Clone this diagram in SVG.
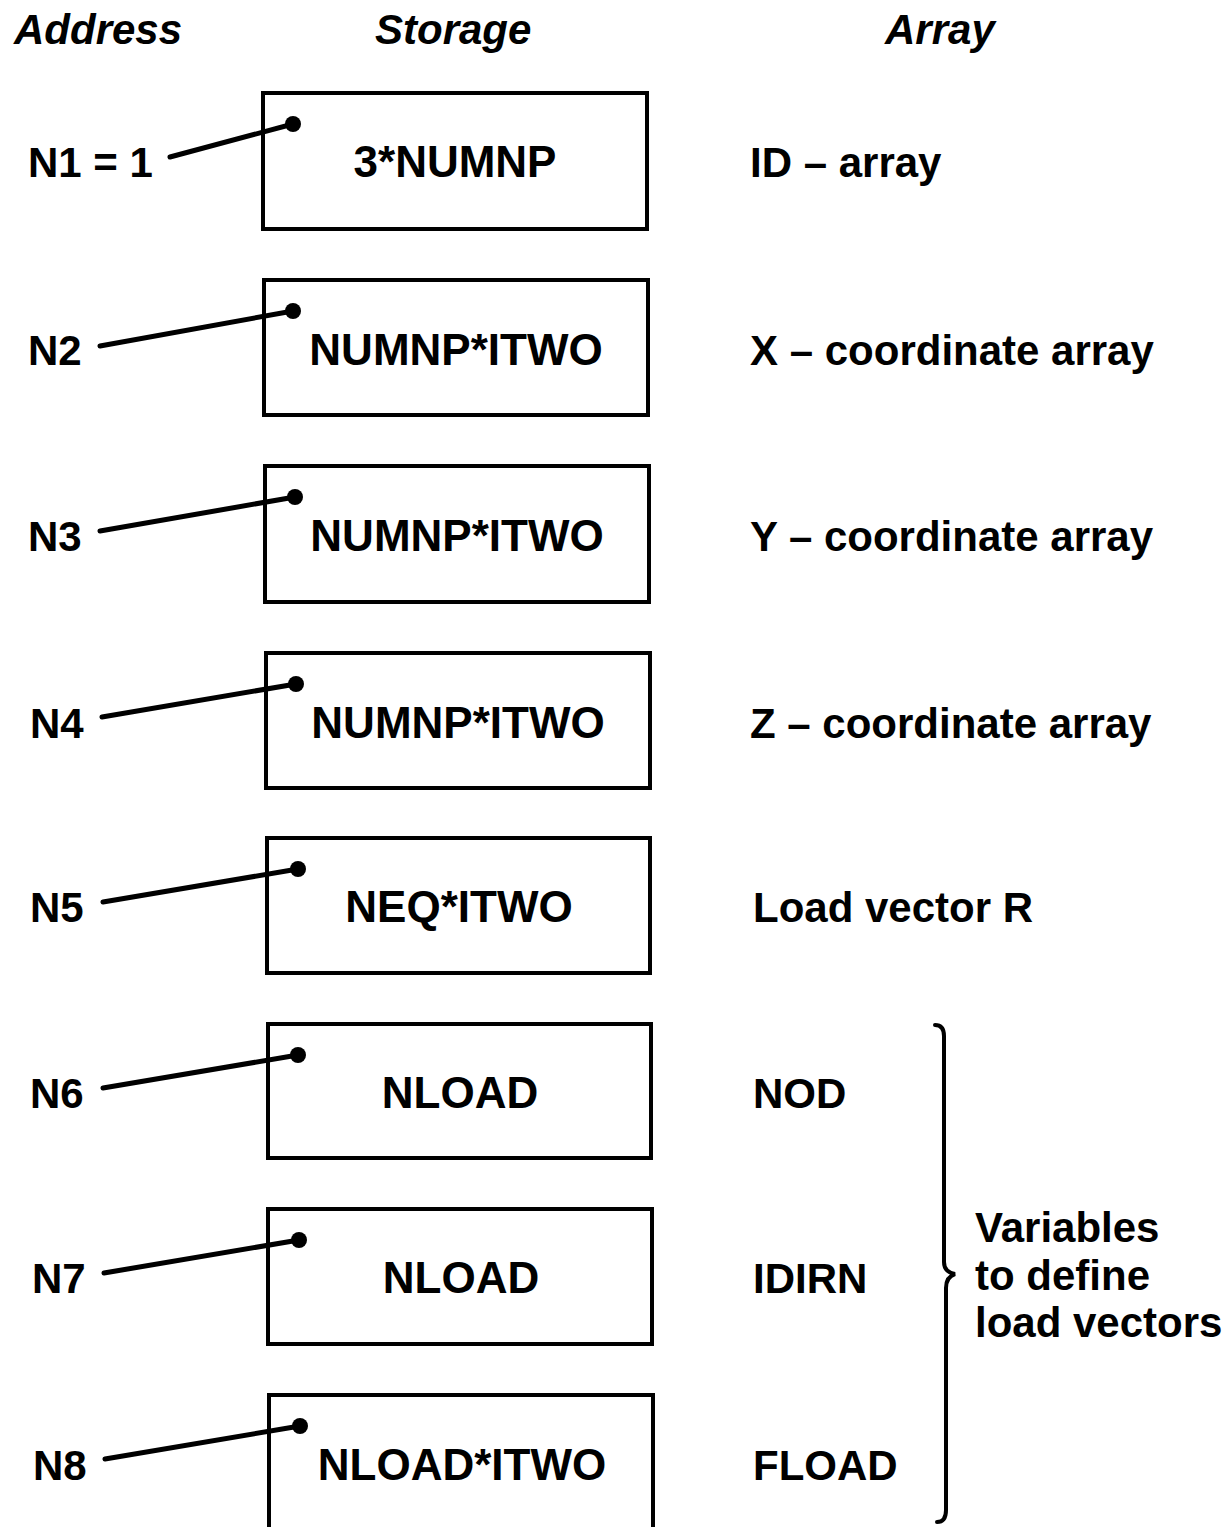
<svg xmlns="http://www.w3.org/2000/svg" width="1225" height="1527" viewBox="0 0 1225 1527">
<style>
text{font-family:"Liberation Sans",Arial,sans-serif;font-weight:bold;fill:#000;font-size:42px}
.h{font-style:italic}
.c{font-size:44px;text-anchor:middle}
.box{fill:#fff;stroke:#000;stroke-width:4}
.ln{stroke:#000;stroke-width:5;fill:none;stroke-linecap:round}
.br{stroke:#000;stroke-width:4;fill:none;stroke-linecap:round}
</style>
<rect width="1225" height="1527" fill="#fff"/>
<g id="headers">
<text class="h" x="14" y="44">Address</text>
<text class="h" x="375" y="44">Storage</text>
<text class="h" x="885" y="44">Array</text>
</g>
<g id="node1"><rect class="box" x="263" y="93" width="384" height="136"/><text class="c" x="455" y="177">3*NUMNP</text></g>
<g id="node2"><rect class="box" x="264" y="280" width="384" height="135"/><text class="c" x="456" y="365">NUMNP*ITWO</text></g>
<g id="node3"><rect class="box" x="265" y="466" width="384" height="136"/><text class="c" x="457" y="551">NUMNP*ITWO</text></g>
<g id="node4"><rect class="box" x="266" y="653" width="384" height="135"/><text class="c" x="458" y="738">NUMNP*ITWO</text></g>
<g id="node5"><rect class="box" x="267" y="838" width="383" height="135"/><text class="c" x="459" y="922">NEQ*ITWO</text></g>
<g id="node6"><rect class="box" x="268" y="1024" width="383" height="134"/><text class="c" x="460" y="1108">NLOAD</text></g>
<g id="node7"><rect class="box" x="268" y="1209" width="384" height="135"/><text class="c" x="461" y="1293">NLOAD</text></g>
<g id="node8"><rect class="box" x="269" y="1395" width="384" height="134"/><text class="c" x="462" y="1480">NLOAD*ITWO</text></g>
<g id="addresses">
<text x="28" y="177">N1 = 1</text>
<text x="28" y="365">N2</text>
<text x="28" y="551">N3</text>
<text x="30" y="738">N4</text>
<text x="30" y="922">N5</text>
<text x="30" y="1108">N6</text>
<text x="32" y="1293">N7</text>
<text x="33" y="1480">N8</text>
</g>
<g id="arrays">
<text x="750" y="177">ID – array</text>
<text x="750" y="365">X – coordinate array</text>
<text x="750" y="551">Y – coordinate array</text>
<text x="750" y="738">Z – coordinate array</text>
<text x="753" y="922">Load vector R</text>
<text x="753" y="1108">NOD</text>
<text x="753" y="1293">IDIRN</text>
<text x="753" y="1480">FLOAD</text>
</g>
<g id="connectors">
<line class="ln" x1="170" y1="157" x2="293" y2="124"/><circle cx="293" cy="124" r="8"/>
<line class="ln" x1="100" y1="346" x2="293" y2="311"/><circle cx="293" cy="311" r="8"/>
<line class="ln" x1="100" y1="531" x2="295" y2="497"/><circle cx="295" cy="497" r="8"/>
<line class="ln" x1="102" y1="717" x2="296" y2="684"/><circle cx="296" cy="684" r="8"/>
<line class="ln" x1="103" y1="902" x2="298" y2="869"/><circle cx="298" cy="869" r="8"/>
<line class="ln" x1="103" y1="1088" x2="298" y2="1055"/><circle cx="298" cy="1055" r="8"/>
<line class="ln" x1="104" y1="1273" x2="299" y2="1240"/><circle cx="299" cy="1240" r="8"/>
<line class="ln" x1="105" y1="1459" x2="300" y2="1426"/><circle cx="300" cy="1426" r="8"/>
</g>
<g id="brace">
<path class="br" d="M935,1025 Q944,1025 944,1036 L944,1262 Q944,1272 955,1274 Q946,1277 946,1288 L946,1510 Q946,1522 937,1522"/>
<text x="975" y="1242">Variables</text>
<text x="975" y="1290">to define</text>
<text x="975" y="1337">load vectors</text>
</g>
</svg>
